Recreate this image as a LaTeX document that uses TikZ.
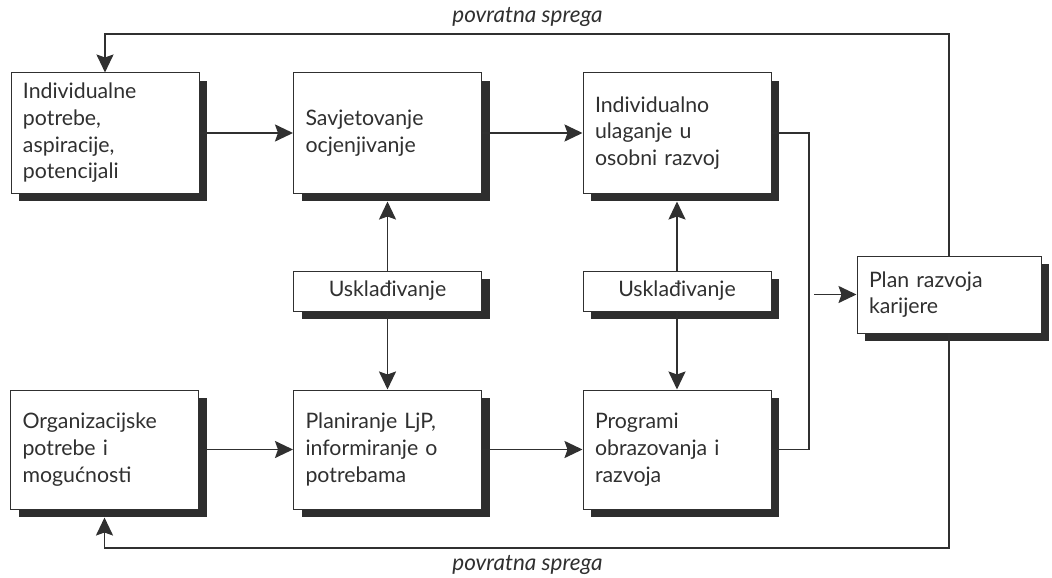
\documentclass[tikz,border=0pt]{standalone}
\usepackage{fontspec}
\setmainfont{Lato}
\usetikzlibrary{arrows.meta,shadows}
\definecolor{ink}{HTML}{303030}
\definecolor{shd}{HTML}{2e2e2e}
\tikzset{
  box/.style={draw=ink, line width=1pt, fill=white, rectangle, align=left,
    inner xsep=12pt, inner ysep=0pt, text=ink,
    font=\fontsize{21.3}{26.7}\selectfont,
    drop shadow={shadow xshift=8pt, shadow yshift=-8pt, fill=shd, opacity=1}},
  bigbox/.style={box, text width=164pt, minimum height=120pt},
  uskbox/.style={box, align=center, text width=164pt, minimum height=40pt},
  conn/.style={draw=ink, line width=1.9pt},
  arr/.style={conn, -{Stealth[length=18pt, width=17pt, inset=3pt]}},
  fb/.style={text=ink, font=\fontsize{22.5}{24}\selectfont\itshape, anchor=base}
}
\begin{document}
\begin{tikzpicture}[x=1pt,y=-1pt]
\useasboundingbox (0,0) rectangle (1052,578);
% nodes
\node[bigbox] (b1) at (105,133) {Individualne\\potrebe,\\aspiracije,\\potencijali};
\node[bigbox] (b2) at (387.5,133) {Savjetovanje\\ocjenjivanje};
\node[bigbox] (b3) at (677,133) {Individualno\\ulaganje u\\osobni razvoj};
\node[uskbox] (u1) at (387.5,291) {Uskla\dj ivanje};
\node[uskbox] (u2) at (677,291) {Uskla\dj ivanje};
\node[bigbox, minimum height=119pt] (b4) at (104.5,449.5) {Organizacijske\\potrebe i\\mogućnosti};
\node[bigbox, minimum height=119pt] (b5) at (387.5,449.5) {Planiranje LjP,\\informiranje o\\potrebama};
\node[bigbox, minimum height=119pt] (b6) at (677,449.5) {Programi\\obrazovanja i\\razvoja};
\node[box, text width=160pt, minimum height=77pt] (plan) at (949,294.5) {Plan razvoja\\karijere};
% coordinates
\coordinate (jn) at (809,294.5);
\coordinate (js) at (814,294.5);
\coordinate (top) at (527,34);
\coordinate (bot) at (527,548);
% labels
\node[fb] (lt) at (527.5,23) {povratna sprega};
\node[fb] (lb) at (527.5,570) {povratna sprega};
% connectors
\draw[arr] (b1.east) -- (b2.west);
\draw[arr] (b2.east) -- (b3.west);
\draw[arr] (b4.east) -- (b5.west);
\draw[arr] (b5.east) -- (b6.west);
\draw[arr, shorten >=8pt] (u1.north) -- (b2.south);
\draw[arr] (u1.south) -- (b5.north);
\draw[arr, shorten >=8pt] (u2.north) -- (b3.south);
\draw[arr] (u2.south) -- (b6.north);
\draw[conn] (b3.east) -| (jn) |- (b6.east);
\draw[arr] (js) -- (plan.west);
\draw[arr] (plan.north) |- (top) -| (b1.north);
\draw[arr, shorten >=8pt] (plan.south) |- (bot) -| (b4.south);
\end{tikzpicture}
\end{document}
